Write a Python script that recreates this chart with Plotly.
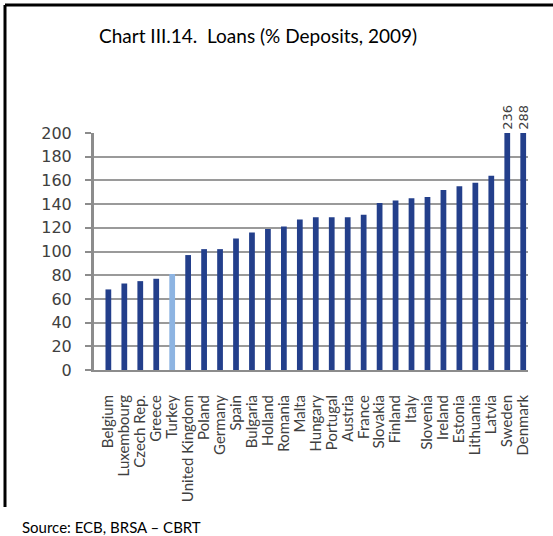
import plotly.graph_objects as go

countries = ["Belgium", "Luxembourg", "Czech Rep.", "Greece", "Turkey", "United Kingdom",
             "Poland", "Germany", "Spain", "Bulgaria", "Holland", "Romania", "Malta",
             "Hungary", "Portugal", "Austria", "France", "Slovakia", "Finland", "Italy",
             "Slovenia", "Ireland", "Estonia", "Lithuania", "Latvia", "Sweden", "Denmark"]
loans_pct_deposits = [68, 73, 75, 77, 81, 97, 102, 102, 111, 116, 119, 121, 127,
                      129, 129, 129, 131, 141, 143, 145, 146, 152, 155, 158, 164, 236, 288]
highlight = "Turkey"
y_ticks = [0, 20, 40, 60, 80, 100, 120, 140, 160, 180, 200]
y_max = 200

W, H = 553, 536
L, R, T, B = 94, 528, 133, 370  # plot area in pixels

navy = "#233F8B"
light = "#8DB4E2"
colors = [light if c == highlight else navy for c in countries]

fig = go.Figure()
fig.add_trace(go.Bar(
    x=countries, y=loans_pct_deposits, marker=dict(color=colors, line=dict(width=0)),
    width=0.36, hoverinfo="x+y",
))

# value labels for bars exceeding the axis
anns = []
for c, v in zip(countries, loans_pct_deposits):
    if v > y_max:
        anns.append(dict(x=c, y=y_max, text=str(v), showarrow=False, textangle=-90,
                         xanchor="center", yanchor="bottom", yshift=1,
                         font=dict(size=13, color="#404040", family="DejaVu Sans")))

def px_x(p):
    return (p - L) / (R - L)

def px_y(p):
    return (B - p) / (B - T)

anns.append(dict(xref="paper", yref="paper", x=px_x(20), y=px_y(527), text="Source: ECB, BRSA – CBRT",
                 showarrow=False, xanchor="left", yanchor="middle",
                 font=dict(size=15, color="black", family="Lato")))
anns.append(dict(xref="paper", yref="paper", x=px_x(258), y=px_y(36),
                 text="Chart III.14.  Loans (% Deposits, 2009)",
                 showarrow=False, xanchor="center", yanchor="middle",
                 font=dict(size=19, color="black", family="Lato")))

shapes = [
    dict(type="line", xref="paper", yref="paper", x0=px_x(5), x1=px_x(560), y0=px_y(5), y1=px_y(5),
         line=dict(color="black", width=3)),
    dict(type="line", xref="paper", yref="paper", x0=px_x(5), x1=px_x(5), y0=px_y(5), y1=px_y(507),
         line=dict(color="black", width=3)),
]

fig.update_layout(
    width=W, height=H,
    margin=dict(l=L, r=W - R, t=T, b=H - B, pad=0),
    paper_bgcolor="white", plot_bgcolor="white",
    showlegend=False,
    annotations=anns, shapes=shapes,
    font=dict(family="Lato", color="#404040"),
    bargap=0.6,
)
fig.update_xaxes(
    range=[-0.9, len(countries) - 1 + 0.3], type="category",
    tickmode="array", tickvals=countries, ticktext=countries,
    showline=True, linecolor="#8C8C8C", linewidth=2,
    showgrid=False, ticks="", tickangle=-90,
    ticklabelstandoff=17,
    tickfont=dict(size=15, color="#404040", family="Lato"),
)
fig.update_yaxes(
    range=[0, y_max], tickvals=y_ticks,
    showline=True, linecolor="#8C8C8C", linewidth=3,
    showgrid=True, gridcolor="#9A9A9A", gridwidth=2,
    ticks="outside", ticklen=6, tickcolor="#8C8C8C", tickwidth=2,
    ticklabelstandoff=10,
    tickfont=dict(size=16, color="#404040", family="DejaVu Sans"),
    zeroline=False,
)

fig.write_html("out.html", config={"displayModeBar": False},
               post_script="document.body.style.margin='0';")
